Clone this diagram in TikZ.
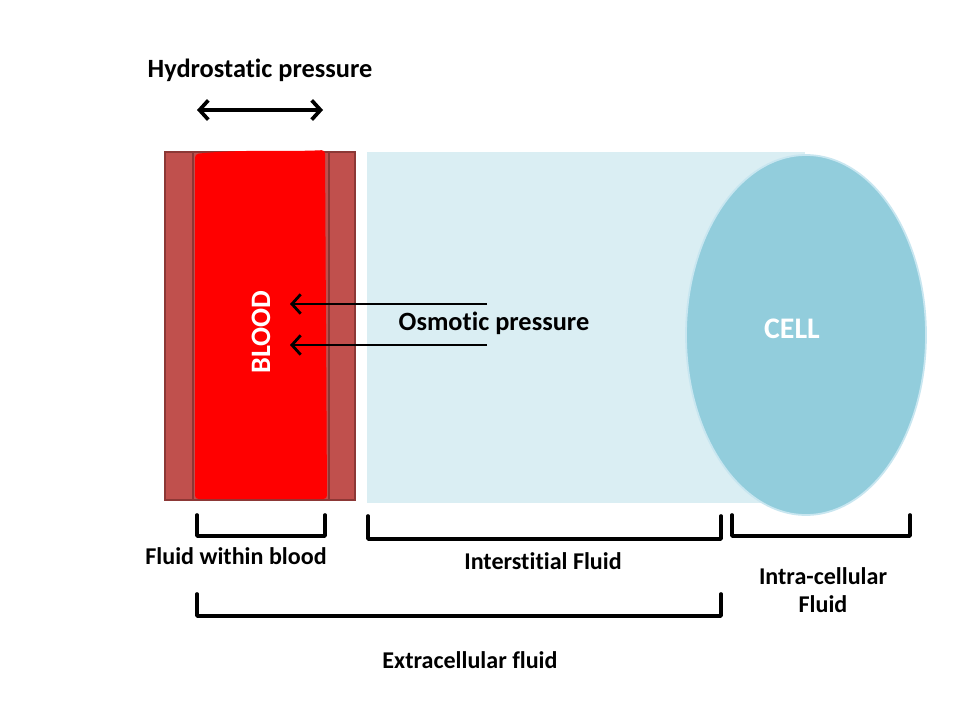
\documentclass[tikz,border=0pt]{standalone}
\usepackage{fontspec}
\setmainfont{Carlito}[Ligatures=NoCommon]
\usetikzlibrary{arrows.meta}
\definecolor{wallred}{RGB}{192,80,77}
\definecolor{walledge}{RGB}{140,56,54}
\definecolor{bloodred}{RGB}{255,0,0}
\definecolor{tissue}{RGB}{218,238,243}
\definecolor{cellblue}{RGB}{146,205,220}
\definecolor{celledge}{RGB}{200,230,240}

\begin{document}
\begin{tikzpicture}[x=0.02cm,y=-0.02cm,>={Straight Barb[length=5pt,width=11pt]},
  lbl/.style={font=\bfseries\fontsize{15}{17}\selectfont, text=black, align=center},
  small/.style={lbl, font=\bfseries\fontsize{13.7}{16}\selectfont},
  brace/.style={line width=2.1pt, line cap=round, line join=round},
  push/.style={->, line width=1.6pt}]

\useasboundingbox (0,0) rectangle (960,720);

% vessel and tissue
\fill[tissue] (367,152) rectangle (805,503);
\draw[fill=wallred, draw=walledge, line width=0.8pt] (165,152) rectangle (355,500);
\draw[walledge, line width=0.8pt] (193,152) -- (193,500) (329,152) -- (329,500);
\fill[bloodred, rounded corners=2pt] (195,154) .. controls (240,149) and (290,152) .. (325,150)
  -- (327,499) -- (195,499) -- cycle;
\draw[fill=cellblue, draw=celledge, line width=1pt] (806,335) ellipse [x radius=120, y radius=180];

% labels
\node[lbl, text=white, rotate=90, font=\bfseries\fontsize{16}{18}\selectfont] (blood) at (261,332) {BLOOD};
\node[lbl, text=white, font=\bfseries\fontsize{17}{19}\selectfont] (cell) at (792,329) {CELL};
\node[lbl] (hydro) at (260,70) {Hydrostatic pressure};
\node[lbl] (osmo) at (494,323) {Osmotic pressure};

\coordinate (hl) at (197,110);
\coordinate (hr) at (323,110);
\draw[<->, line width=2.1pt] (hl) -- (hr);

\coordinate (o1) at (487,304);
\coordinate (b1) at (290,304);
\coordinate (o2) at (487,345);
\coordinate (b2) at (290,345);
\draw[push] (o1) -- (b1);
\draw[push] (o2) -- (b2);

% brackets
\draw[brace] (197,515) -- (197,536) -- (325,536) -- (325,515);
\draw[brace] (368,516) -- (368,539) -- (721,539) -- (721,516);
\draw[brace] (732,515) -- (732,536) -- (910,536) -- (910,515);
\draw[brace] (197,594) -- (197,616) -- (721,616) -- (721,594);

\node[small] (within) at (236,556) {Fluid within blood};
\node[small] (inter) at (543,561) {Interstitial Fluid};
\node[small] (intra) at (823,590) {Intra-cellular\\Fluid};
\node[small] (extra) at (470,660) {Extracellular fluid};

\end{tikzpicture}
\end{document}
